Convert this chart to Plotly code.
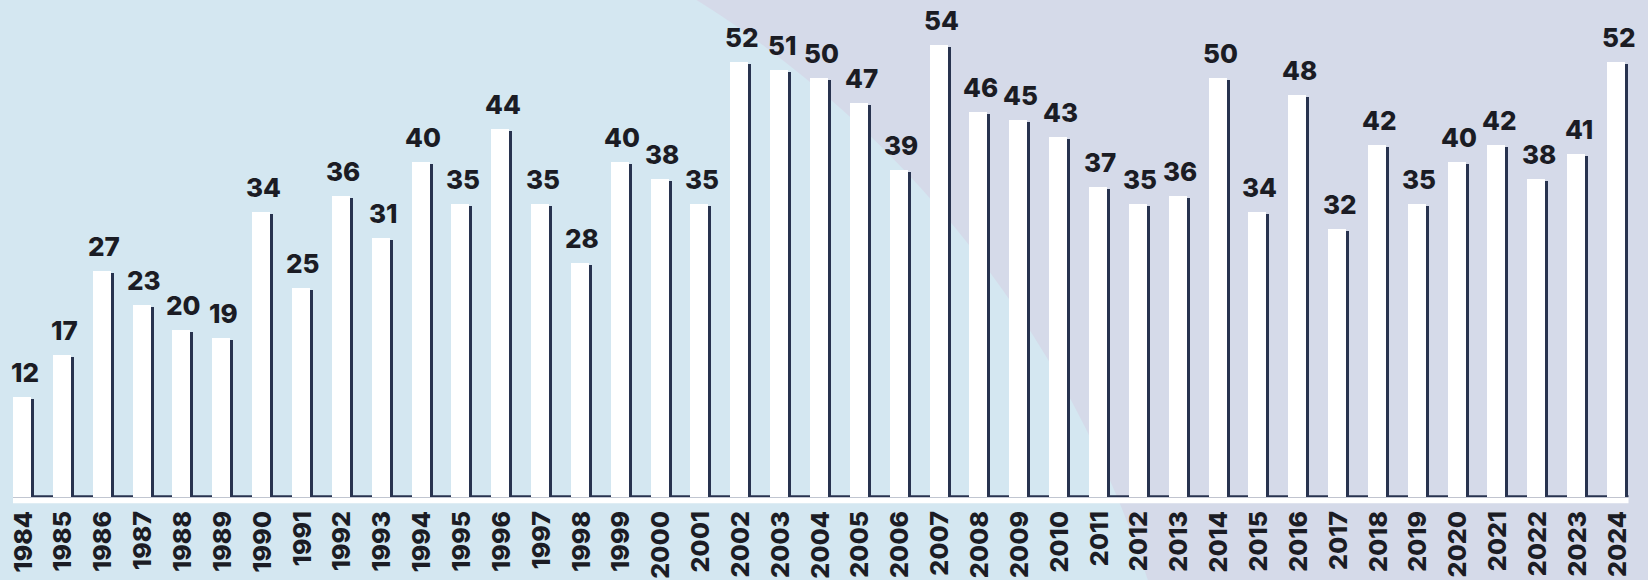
import plotly.graph_objects as go
import numpy as np

years = list(range(1984, 2025))
values = [12, 17, 27, 23, 20, 19, 34, 25, 36, 31, 40, 35, 44, 35, 28, 40, 38, 35,
          52, 51, 50, 47, 39, 54, 46, 45, 43, 37, 35, 36, 50, 34, 48, 32, 42, 35,
          40, 42, 38, 41, 52]
tick_labels = [str(y) for y in years]

W, H = 1648, 580
MT, MB = 0, 75
PH = H - MT - MB          # plot height in px
PXU = 8.38                # px per unit
BASE_PX = 497.3           # pixel row of y=0
PXX = 39.85               # px per year
X0_PX = 23.5              # pixel of first category

x0 = years[0] - X0_PX / PXX
x1 = x0 + W / PXX
ytop = BASE_PX / PXU
ybot = -(PH - BASE_PX) / PXU

def ux(px):
    return px / PXX

def uy(px):
    return px / PXU

BLUE = "#d4e7f1"
LAV = "#d5dae9"
NAVY = "#28334f"
TXT = "#1b1c24"
FONT = "Inter"

fig = go.Figure()

# shadow bars
fig.add_trace(go.Bar(
    x=years, y=[v - uy(2) for v in values],
    width=ux(18), offset=ux(-7.5),
    marker=dict(color=NAVY, line=dict(width=0)),
    hoverinfo="skip", showlegend=False,
))
# white bars
fig.add_trace(go.Bar(
    x=years, y=values,
    width=ux(18), offset=ux(-10.5),
    marker=dict(color="#ffffff", line=dict(width=0)),
    showlegend=False,
))

# background circle (paper coords, pixel-based)
cx, cy, r = 124.0, 911.0, 1076.0
def paper_x(px):
    return px / W
def paper_y(py):
    return 1 - (py - MT) / PH

shapes = [
    dict(type="circle", xref="paper", yref="paper",
         x0=paper_x(cx - r), x1=paper_x(cx + r),
         y0=paper_y(cy + r), y1=paper_y(cy - r),
         fillcolor=BLUE, line=dict(width=0), layer="below"),
    # white base strip
    dict(type="rect", xref="x", yref="y",
         x0=years[0] - ux(10.5), x1=years[-1] + ux(11),
         y0=-uy(6), y1=0,
         fillcolor="#ffffff", line=dict(width=0), layer="below"),
    # dark baseline line
    dict(type="rect", xref="x", yref="y",
         x0=years[0] - ux(10.5), x1=years[-1] + ux(11),
         y0=0, y1=uy(2),
         fillcolor=NAVY, line=dict(width=0), layer="below"),
]

annotations = []
for yr, v in zip(years, values):
    annotations.append(dict(
        x=yr, y=v, xref="x", yref="y", text=str(v), showarrow=False,
        yanchor="bottom", xanchor="center", yshift=7, xshift=1,
        font=dict(family=FONT, size=26, color=TXT, weight=800),
    ))

fig.update_layout(
    width=W, height=H,
    margin=dict(l=0, r=0, t=MT, b=MB, pad=0),
    paper_bgcolor=LAV, plot_bgcolor="rgba(0,0,0,0)",
    barmode="overlay", bargap=0,
    shapes=shapes, annotations=annotations,
    xaxis=dict(range=[x0, x1], tickmode="array", tickvals=years, ticktext=tick_labels,
               tickangle=-90, showgrid=False, zeroline=False, showline=False,
               ticks="", tickfont=dict(family=FONT, size=25, color=TXT, weight=800)),
    yaxis=dict(range=[ybot, ytop], visible=False, showgrid=False, zeroline=False),
    font=dict(family=FONT),
    hovermode=False,
)

fig.write_html("out.html", config={"displayModeBar": False, "staticPlot": True},
               post_script="document.body.style.margin='0';document.body.style.overflow='hidden';")
